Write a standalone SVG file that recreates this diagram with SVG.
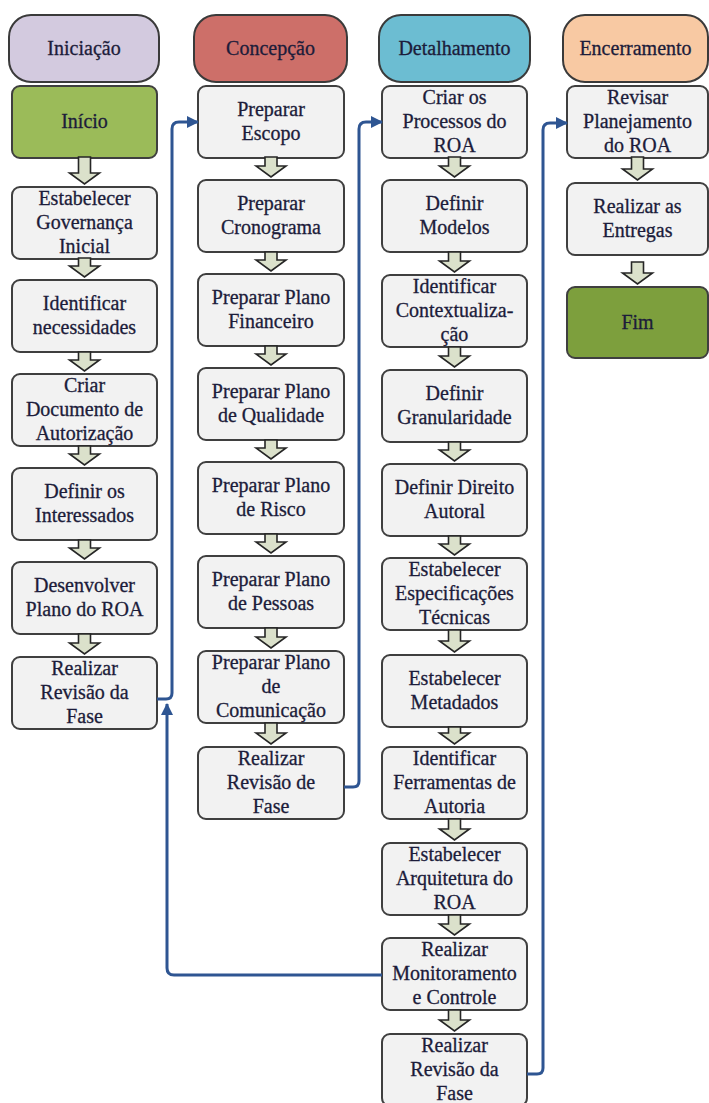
<svg xmlns="http://www.w3.org/2000/svg" width="709" height="1103" viewBox="0 0 709 1103">
  <style>
    .hdr { stroke: #3a3a3a; stroke-width: 2; }
    .box { fill: #f2f2f2; stroke: #3f3f3f; stroke-width: 2; }
    .green { fill: #9bbb59; }
    .olive { fill: #7d9f3d; }
    .t { font-family: "Liberation Serif", "Times New Roman", serif; font-size: 20px; fill: #1c1c3a; text-anchor: middle; stroke: #1c1c3a; stroke-width: 0.3; }
    .step { fill: #dbe1cb; stroke: #262626; stroke-width: 1.6; }
    .link { fill: none; stroke: #2e5592; stroke-width: 3; }
  </style>
  <defs>
    <marker id="tip" viewBox="0 0 12 12" markerWidth="12" markerHeight="12" refX="11" refY="6" orient="auto" markerUnits="userSpaceOnUse">
      <path d="M0,0 L12,6 L0,12 Z" fill="#2e5592"/>
    </marker>
  </defs>

  <rect width="709" height="1103" fill="#ffffff"/>

  <!-- phase headers -->
  <g id="h-iniciacao"><rect class="hdr" x="9" y="15" width="150" height="67" rx="22" fill="#d3cadf"/><text class="t" x="84" y="55">Iniciação</text></g>
  <g id="h-concepcao"><rect class="hdr" x="194" y="15" width="153" height="67" rx="22" fill="#cd6f69"/><text class="t" x="270.5" y="55">Concepção</text></g>
  <g id="h-detalhamento"><rect class="hdr" x="379" y="15" width="151" height="67" rx="22" fill="#6cbdd2"/><text class="t" x="454.5" y="55">Detalhamento</text></g>
  <g id="h-encerramento"><rect class="hdr" x="563" y="15" width="145" height="67" rx="22" fill="#f8c9a3"/><text class="t" x="635.5" y="55">Encerramento</text></g>

  <!-- column 1: Iniciação -->
  <g id="n-inicio"><rect class="box green" x="12" y="86" width="145" height="72" rx="8"/><text class="t" x="84.5" y="128">Início</text></g>
  <g id="n-governanca"><rect class="box" x="12" y="187" width="145" height="72" rx="8"/><text class="t"><tspan x="84.5" y="205">Estabelecer</tspan><tspan x="84.5" y="229">Governança</tspan><tspan x="84.5" y="253">Inicial</tspan></text></g>
  <g id="n-necessidades"><rect class="box" x="12" y="280" width="145" height="72" rx="8"/><text class="t"><tspan x="84.5" y="310">Identificar</tspan><tspan x="84.5" y="334">necessidades</tspan></text></g>
  <g id="n-autorizacao"><rect class="box" x="12" y="374" width="145" height="72" rx="8"/><text class="t"><tspan x="84.5" y="392">Criar</tspan><tspan x="84.5" y="416">Documento de</tspan><tspan x="84.5" y="440">Autorização</tspan></text></g>
  <g id="n-interessados"><rect class="box" x="12" y="468" width="145" height="72" rx="8"/><text class="t"><tspan x="84.5" y="498">Definir os</tspan><tspan x="84.5" y="522">Interessados</tspan></text></g>
  <g id="n-plano-roa"><rect class="box" x="12" y="562" width="145" height="72" rx="8"/><text class="t"><tspan x="84.5" y="592">Desenvolver</tspan><tspan x="84.5" y="616">Plano do ROA</tspan></text></g>
  <g id="n-revisao-1"><rect class="box" x="12" y="657" width="145" height="72" rx="8"/><text class="t"><tspan x="84.5" y="675">Realizar</tspan><tspan x="84.5" y="699">Revisão da</tspan><tspan x="84.5" y="723">Fase</tspan></text></g>

  <!-- column 2: Concepção -->
  <g id="n-escopo"><rect class="box" x="198" y="86" width="146" height="72" rx="8"/><text class="t"><tspan x="271" y="116">Preparar</tspan><tspan x="271" y="140">Escopo</tspan></text></g>
  <g id="n-cronograma"><rect class="box" x="198" y="180" width="146" height="72" rx="8"/><text class="t"><tspan x="271" y="210">Preparar</tspan><tspan x="271" y="234">Cronograma</tspan></text></g>
  <g id="n-financeiro"><rect class="box" x="198" y="274" width="146" height="72" rx="8"/><text class="t"><tspan x="271" y="304">Preparar Plano</tspan><tspan x="271" y="328">Financeiro</tspan></text></g>
  <g id="n-qualidade"><rect class="box" x="198" y="368" width="146" height="72" rx="8"/><text class="t"><tspan x="271" y="398">Preparar Plano</tspan><tspan x="271" y="422">de Qualidade</tspan></text></g>
  <g id="n-risco"><rect class="box" x="198" y="462" width="146" height="72" rx="8"/><text class="t"><tspan x="271" y="492">Preparar Plano</tspan><tspan x="271" y="516">de Risco</tspan></text></g>
  <g id="n-pessoas"><rect class="box" x="198" y="556" width="146" height="72" rx="8"/><text class="t"><tspan x="271" y="586">Preparar Plano</tspan><tspan x="271" y="610">de Pessoas</tspan></text></g>
  <g id="n-comunicacao"><rect class="box" x="198" y="651" width="146" height="72" rx="8"/><text class="t"><tspan x="271" y="669">Preparar Plano</tspan><tspan x="271" y="693">de</tspan><tspan x="271" y="717">Comunicação</tspan></text></g>
  <g id="n-revisao-2"><rect class="box" x="198" y="747" width="146" height="72" rx="8"/><text class="t"><tspan x="271" y="765">Realizar</tspan><tspan x="271" y="789">Revisão de</tspan><tspan x="271" y="813">Fase</tspan></text></g>

  <!-- column 3: Detalhamento -->
  <g id="n-processos"><rect class="box" x="382" y="86" width="145" height="72" rx="8"/><text class="t"><tspan x="454.5" y="104">Criar os</tspan><tspan x="454.5" y="128">Processos do</tspan><tspan x="454.5" y="152">ROA</tspan></text></g>
  <g id="n-modelos"><rect class="box" x="382" y="180" width="145" height="72" rx="8"/><text class="t"><tspan x="454.5" y="210">Definir</tspan><tspan x="454.5" y="234">Modelos</tspan></text></g>
  <g id="n-contexto"><rect class="box" x="382" y="275" width="145" height="72" rx="8"/><text class="t"><tspan x="454.5" y="293">Identificar</tspan><tspan x="454.5" y="317">Contextualiza-</tspan><tspan x="454.5" y="341">ção</tspan></text></g>
  <g id="n-granularidade"><rect class="box" x="382" y="370" width="145" height="72" rx="8"/><text class="t"><tspan x="454.5" y="400">Definir</tspan><tspan x="454.5" y="424">Granularidade</tspan></text></g>
  <g id="n-direito"><rect class="box" x="382" y="464" width="145" height="72" rx="8"/><text class="t"><tspan x="454.5" y="494">Definir Direito</tspan><tspan x="454.5" y="518">Autoral</tspan></text></g>
  <g id="n-especificacoes"><rect class="box" x="382" y="558" width="145" height="72" rx="8"/><text class="t"><tspan x="454.5" y="576">Estabelecer</tspan><tspan x="454.5" y="600">Especificações</tspan><tspan x="454.5" y="624">Técnicas</tspan></text></g>
  <g id="n-metadados"><rect class="box" x="382" y="655" width="145" height="72" rx="8"/><text class="t"><tspan x="454.5" y="685">Estabelecer</tspan><tspan x="454.5" y="709">Metadados</tspan></text></g>
  <g id="n-ferramentas"><rect class="box" x="382" y="747" width="145" height="72" rx="8"/><text class="t"><tspan x="454.5" y="765">Identificar</tspan><tspan x="454.5" y="789">Ferramentas de</tspan><tspan x="454.5" y="813">Autoria</tspan></text></g>
  <g id="n-arquitetura"><rect class="box" x="382" y="843" width="145" height="72" rx="8"/><text class="t"><tspan x="454.5" y="861">Estabelecer</tspan><tspan x="454.5" y="885">Arquitetura do</tspan><tspan x="454.5" y="909">ROA</tspan></text></g>
  <g id="n-monitoramento"><rect class="box" x="382" y="938" width="145" height="72" rx="8"/><text class="t"><tspan x="454.5" y="956">Realizar</tspan><tspan x="454.5" y="980">Monitoramento</tspan><tspan x="454.5" y="1004">e Controle</tspan></text></g>
  <g id="n-revisao-3"><rect class="box" x="382" y="1034" width="145" height="72" rx="8"/><text class="t"><tspan x="454.5" y="1052">Realizar</tspan><tspan x="454.5" y="1076">Revisão da</tspan><tspan x="454.5" y="1100">Fase</tspan></text></g>

  <!-- column 4: Encerramento -->
  <g id="n-revisar"><rect class="box" x="567" y="86" width="141" height="72" rx="8"/><text class="t"><tspan x="637.5" y="104">Revisar</tspan><tspan x="637.5" y="128">Planejamento</tspan><tspan x="637.5" y="152">do ROA</tspan></text></g>
  <g id="n-entregas"><rect class="box" x="567" y="183" width="141" height="72" rx="8"/><text class="t"><tspan x="637.5" y="213">Realizar as</tspan><tspan x="637.5" y="237">Entregas</tspan></text></g>
  <g id="n-fim"><rect class="box olive" x="567" y="287" width="141" height="71" rx="8"/><text class="t" x="637.5" y="328.5">Fim</text></g>

  <!-- sequence arrows and phase links -->
  <g id="connectors">
    <!-- block arrows, column 1 -->
    <path class="step" d="M78.5,157 V173 H69.5 L84.5,184 L99.5,173 H90.5 V157 Z"/>
    <path class="step" d="M78.5,258 V266 H69.5 L84.5,277 L99.5,266 H90.5 V258 Z"/>
    <path class="step" d="M78.5,352 V360 H69.5 L84.5,371 L99.5,360 H90.5 V352 Z"/>
    <path class="step" d="M78.5,446 V454 H69.5 L84.5,465 L99.5,454 H90.5 V446 Z"/>
    <path class="step" d="M78.5,540 V548 H69.5 L84.5,559 L99.5,548 H90.5 V540 Z"/>
    <path class="step" d="M78.5,634 V643 H69.5 L84.5,654 L99.5,643 H90.5 V634 Z"/>
    <!-- block arrows, column 2 -->
    <path class="step" d="M265,157 V166 H256 L271,177 L286,166 H277 V157 Z"/>
    <path class="step" d="M265,252 V260 H256 L271,271 L286,260 H277 V252 Z"/>
    <path class="step" d="M265,346 V354 H256 L271,365 L286,354 H277 V346 Z"/>
    <path class="step" d="M265,440 V448 H256 L271,459 L286,448 H277 V440 Z"/>
    <path class="step" d="M265,534 V542 H256 L271,553 L286,542 H277 V534 Z"/>
    <path class="step" d="M265,628 V637 H256 L271,648 L286,637 H277 V628 Z"/>
    <path class="step" d="M265,723 V733 H256 L271,744 L286,733 H277 V723 Z"/>
    <!-- block arrows, column 3 -->
    <path class="step" d="M448.5,157 V166 H439.5 L454.5,177 L469.5,166 H460.5 V157 Z"/>
    <path class="step" d="M448.5,252 V261 H439.5 L454.5,272 L469.5,261 H460.5 V252 Z"/>
    <path class="step" d="M448.5,347 V356 H439.5 L454.5,367 L469.5,356 H460.5 V347 Z"/>
    <path class="step" d="M448.5,442 V450 H439.5 L454.5,461 L469.5,450 H460.5 V442 Z"/>
    <path class="step" d="M448.5,536 V544 H439.5 L454.5,555 L469.5,544 H460.5 V536 Z"/>
    <path class="step" d="M448.5,630 V641 H439.5 L454.5,652 L469.5,641 H460.5 V630 Z"/>
    <path class="step" d="M448.5,727 V733 H439.5 L454.5,744 L469.5,733 H460.5 V727 Z"/>
    <path class="step" d="M448.5,819 V829 H439.5 L454.5,840 L469.5,829 H460.5 V819 Z"/>
    <path class="step" d="M448.5,915 V924 H439.5 L454.5,935 L469.5,924 H460.5 V915 Z"/>
    <path class="step" d="M448.5,1010 V1020 H439.5 L454.5,1031 L469.5,1020 H460.5 V1010 Z"/>
    <!-- block arrows, column 4 -->
    <path class="step" d="M631.5,157 V169 H622.5 L637.5,180 L652.5,169 H643.5 V157 Z"/>
    <path class="step" d="M631.5,262 V273 H622.5 L637.5,284 L652.5,273 H643.5 V262 Z"/>

    <!-- phase review links -->
    <path class="link" marker-end="url(#tip)" d="M157,699 H166 Q172,699 172,693 V129 Q172,122 179,122 H198"/>
    <path class="link" marker-end="url(#tip)" d="M344,787 H353 Q359,787 359,781 V129 Q359,122 366,122 H382"/>
    <path class="link" marker-end="url(#tip)" d="M527,1074 H537 Q543,1074 543,1068 V130 Q543,123 550,123 H567"/>
    <path class="link" marker-end="url(#tip)" d="M382,975 H174 Q167,975 167,968 V704"/>
  </g>
</svg>
